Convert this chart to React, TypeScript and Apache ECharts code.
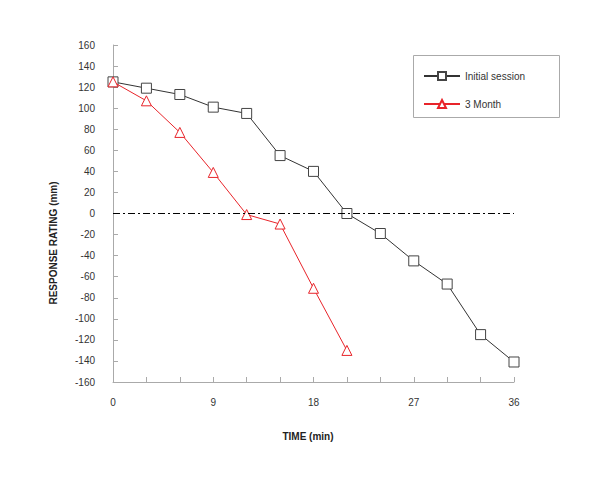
import React, { useEffect, useRef } from "react";
import * as echarts from "echarts";

const initialTimes = [0, 3, 6, 9, 12, 15, 18, 21, 24, 27, 30, 33, 36];
const initialValues = [125, 119, 113, 101, 95, 55, 40, 0, -19, -45, -67, -115, -141];
const monthTimes = [0, 3, 6, 9, 12, 15, 18, 21];
const monthValues = [125, 107, 77, 39, -1, -10, -71, -130];
const seriesNames = ["Initial session", "3 Month"];
const xLabelTicks = [0, 9, 18, 27, 36];

export default function App() {
  const ref = useRef<HTMLDivElement>(null);
  useEffect(() => {
    const chart = echarts.init(ref.current!, null, { renderer: "svg" });
    const font = "Liberation Sans, Arial, sans-serif";
    chart.setOption({
      animation: false,
      backgroundColor: "#fff",
      textStyle: { fontFamily: font },
      grid: { left: 113, right: 86, top: 45, bottom: 102, containLabel: false },
      xAxis: {
        type: "value",
        min: 0,
        max: 36,
        interval: 3,
        axisLine: { onZero: false, lineStyle: { color: "#aaa", width: 1 } },
        axisTick: { inside: true, length: 5, lineStyle: { color: "#aaa" } },
        axisLabel: {
          margin: 15,
          color: "#333",
          fontSize: 10,
          fontFamily: font,
          formatter: (v: number) => (xLabelTicks.includes(v) ? String(v) : ""),
        },
        splitLine: { show: false },
      },
      yAxis: {
        type: "value",
        min: -160,
        max: 160,
        interval: 20,
        axisLine: { show: true, onZero: false, lineStyle: { color: "#aaa", width: 1 } },
        axisTick: { show: true, inside: true, length: 5, lineStyle: { color: "#aaa" } },
        axisLabel: { margin: 18, color: "#333", fontSize: 10, fontFamily: font },
        splitLine: { show: false },
      },
      legend: {
        orient: "vertical",
        left: 418,
        top: 66,
        itemWidth: 36,
        itemHeight: 10,
        itemGap: 18,
        textStyle: { fontSize: 10, color: "#333", fontFamily: font },
        data: seriesNames,
      },
      graphic: [
        {
          type: "rect",
          shape: { x: 413.5, y: 55.5, width: 146, height: 62 },
          style: { fill: "none", stroke: "#aaa", lineWidth: 1 },
          z: -1,
        },
        {
          type: "text",
          x: 308,
          y: 436,
          style: {
            text: "TIME (min)",
            font: `bold 10px ${font}`,
            fill: "#222",
            textAlign: "center",
            textVerticalAlign: "middle",
          },
        },
        {
          type: "text",
          x: 53,
          y: 243,
          rotation: Math.PI / 2,
          style: {
            text: "RESPONSE RATING (mm)",
            font: `bold 10px ${font}`,
            fill: "#222",
            textAlign: "center",
            textVerticalAlign: "middle",
          },
        },
      ],
      series: [
        {
          name: seriesNames[0],
          type: "line",
          data: initialTimes.map((t, i) => [t, initialValues[i]]),
          symbol: "rect",
          symbolSize: 10,
          itemStyle: { color: "#fff", borderColor: "#444", borderWidth: 1 },
          lineStyle: { color: "#333", width: 1 },
          z: 3,
          markLine: {
            silent: true,
            symbol: "none",
            label: { show: false },
            lineStyle: { color: "#000", width: 1, type: [7, 3, 2, 3] },
            data: [{ yAxis: 0 }],
          },
        },
        {
          name: seriesNames[1],
          type: "line",
          data: monthTimes.map((t, i) => [t, monthValues[i]]),
          symbol: "triangle",
          symbolSize: 10,
          itemStyle: { color: "#fff", borderColor: "#e8242a", borderWidth: 1 },
          lineStyle: { color: "#e8242a", width: 1 },
          z: 4,
        },
      ],
    });
    return () => chart.dispose();
  }, []);
  return (
    <div
      ref={ref}
      style={{ position: "fixed", left: 0, top: 0, width: 600, height: 484 }}
    />
  );
}
